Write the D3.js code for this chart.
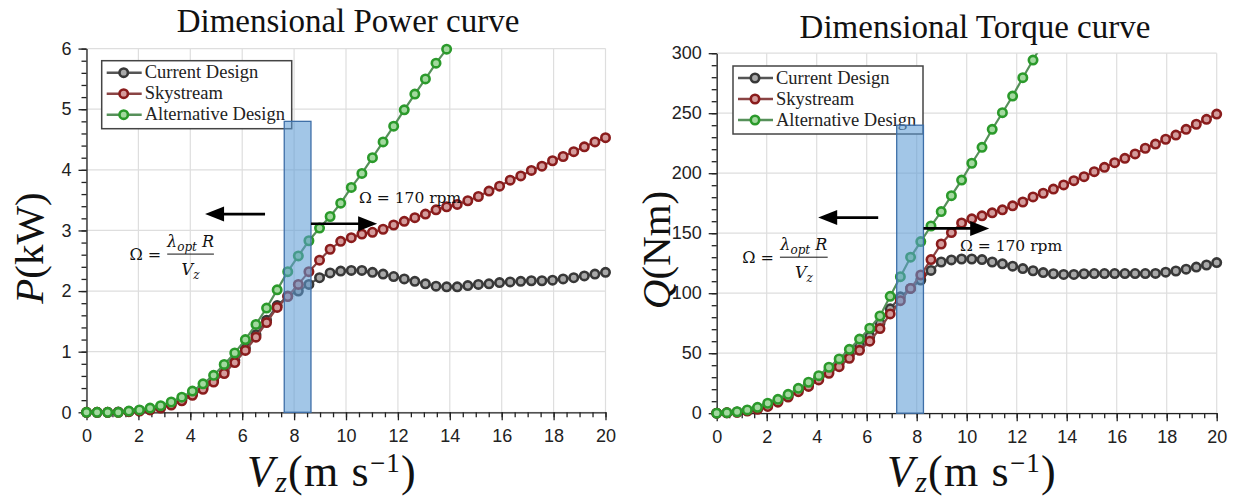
<!DOCTYPE html>
<html>
<head>
<meta charset="utf-8">
<script src="https://cdn.jsdelivr.net/npm/d3@7"></script>
<style>
  body { margin: 0; background: #fff; }
  svg { display: block; }
</style>
</head>
<body>
<svg id="fig" width="1237" height="503"></svg>
<script>
'use strict';

// wind speed samples (m/s), 50 points from 0 to 20
const windSpeed = [0, 0.408, 0.816, 1.224, 1.633, 2.041, 2.449, 2.857, 3.265, 3.673,
	4.082, 4.490, 4.898, 5.306, 5.714, 6.122, 6.531, 6.939, 7.347, 7.755,
	8.163, 8.571, 8.980, 9.388, 9.796, 10.204, 10.612, 11.020, 11.429, 11.837,
	12.245, 12.653, 13.061, 13.469, 13.878, 14.286, 14.694, 15.102, 15.510, 15.918,
	16.327, 16.735, 17.143, 17.551, 17.959, 18.367, 18.776, 19.184, 19.592, 20.000];

// power (kW)
const powerCurrent = [0, 0, 0, 0.005, 0.015, 0.03, 0.05, 0.09, 0.14, 0.21,
	0.30, 0.41, 0.53, 0.68, 0.86, 1.06, 1.28, 1.52, 1.76, 1.92,
	2.00, 2.11, 2.22, 2.30, 2.33, 2.34, 2.34, 2.31, 2.28, 2.24,
	2.20, 2.16, 2.12, 2.08, 2.07, 2.07, 2.09, 2.11, 2.12, 2.14,
	2.15, 2.16, 2.17, 2.17, 2.18, 2.20, 2.22, 2.25, 2.28, 2.31];
const powerSkystream = [0, 0, 0, 0, 0.01, 0.02, 0.04, 0.07, 0.12, 0.19,
	0.28, 0.38, 0.50, 0.64, 0.82, 1.02, 1.24, 1.48, 1.73, 1.91,
	2.11, 2.32, 2.51, 2.69, 2.82, 2.88, 2.94, 2.97, 3.02, 3.09,
	3.15, 3.21, 3.27, 3.34, 3.39, 3.43, 3.49, 3.56, 3.65, 3.73,
	3.83, 3.90, 3.99, 4.06, 4.15, 4.22, 4.30, 4.38, 4.46, 4.53];
const powerAlternative = [0, 0, 0, 0, 0.02, 0.04, 0.07, 0.11, 0.17, 0.25,
	0.35, 0.47, 0.61, 0.79, 0.98, 1.20, 1.45, 1.72, 2.02, 2.32,
	2.58, 2.83, 3.04, 3.23, 3.45, 3.71, 3.94, 4.20, 4.46, 4.72,
	4.99, 5.25, 5.50, 5.76, 5.99];

// torque (Nm)
const torqueCurrent = [0, 0.3, 1.0, 2.2, 4.0, 6.8, 10.3, 14.5, 19.2, 24.0,
	29.5, 35.5, 41.8, 49.0, 56.5, 64, 75, 87, 97, 104,
	111, 119, 126, 127.7, 128.5, 128.5, 128, 126, 124.5, 122.5,
	120.5, 118.7, 117.2, 116.2, 115.6, 115.6, 116.2, 116.4, 116.4, 116.4,
	116.4, 116.4, 116.4, 116.5, 117.5, 118.5, 120, 121.8, 123.5, 125.5];
const torqueSkystream = [0, 0.3, 0.8, 1.8, 3.3, 5.6, 9.2, 13.5, 17.9, 22.3,
	27.7, 33.3, 38.8, 45.8, 52.4, 60, 70.5, 82.7, 93.8, 104,
	115.2, 128, 141, 150.5, 158.5, 162, 164.5, 167, 169.5, 172.8,
	176, 180.2, 183.3, 186.8, 190.2, 193.8, 197.1, 201.3, 204.9, 208.8,
	212.4, 216.1, 220.8, 224.3, 228.3, 231.8, 236.6, 240.8, 244.9, 249.3];
const torqueAlternative = [0, 0.4, 1.2, 2.7, 4.9, 8.3, 11.6, 15.7, 20.7, 25.8,
	31.3, 38.3, 45.2, 53.2, 61.8, 70.8, 81, 97.4, 113.8, 130,
	143, 156, 168, 181.3, 194.3, 208.3, 221.6, 236.6, 250.4, 264.3,
	279.6, 294.3, 309];

const seriesNames = ['Current Design', 'Skystream', 'Alternative Design'];
const speedTicks = [0, 2, 4, 6, 8, 10, 12, 14, 16, 18, 20];
const powerTicks = [0, 1, 2, 3, 4, 5, 6];
const torqueTicks = [0, 50, 100, 150, 200, 250, 300];

// annotations: shaded band [v0, v1, top], arrows [from, to, level]
const powerBand = [7.62, 8.65, 4.8];
const powerArrows = [[6.88, 4.57, 3.27], [8.65, 11.2, 3.11]];
const torqueBand = [7.2, 8.27, 240];
const torqueArrows = [[6.46, 4.06, 163], [8.27, 10.9, 154]];

const styles = [
	{line: '#555555', stroke: '#383838', fill: '#a9a9a9'},
	{line: '#8a4444', stroke: '#8a1c1c', fill: '#d49c9c'},
	{line: '#56905a', stroke: '#2b9a2b', fill: '#a3d99f'}
];

const svg = d3.select('#fig');

function drawPanel(cfg) {
	const g = svg.append('g');
	const x = d3.scaleLinear().domain([0, 20]).range([cfg.left, cfg.right]);
	const y = d3.scaleLinear().domain([0, cfg.yMax]).range([cfg.bottom, cfg.top]);

	// grid
	g.append('g').selectAll('line').data(speedTicks).join('line')
		.attr('x1', d => x(d)).attr('x2', d => x(d))
		.attr('y1', cfg.top).attr('y2', cfg.bottom)
		.attr('stroke', '#dedede').attr('stroke-width', 1.2);
	g.append('g').selectAll('line').data(cfg.yTicks).join('line')
		.attr('x1', cfg.left).attr('x2', cfg.right)
		.attr('y1', d => y(d)).attr('y2', d => y(d))
		.attr('stroke', '#dedede').attr('stroke-width', 1.2);

	// axes
	const xAxis = g.append('g').attr('transform', 'translate(0,' + cfg.bottom + ')')
		.call(d3.axisBottom(x).tickValues(speedTicks).tickSize(8).tickPadding(9).tickSizeOuter(0));
	g.append('g').attr('transform', 'translate(0,' + cfg.bottom + ')')
		.call(d3.axisBottom(x).tickValues(d3.range(0, 20.01, 0.5)).tickSize(5).tickFormat('').tickSizeOuter(0))
		.select('.domain').remove();
	const yAxis = g.append('g').attr('transform', 'translate(' + cfg.left + ',0)')
		.call(d3.axisLeft(y).tickValues(cfg.yTicks).tickFormat(d3.format('d')).tickSize(8).tickPadding(7).tickSizeOuter(0));
	g.append('g').attr('transform', 'translate(' + cfg.left + ',0)')
		.call(d3.axisLeft(y).tickValues(d3.range(0, cfg.yMax + 1e-6, cfg.yMinor)).tickSize(5).tickFormat('').tickSizeOuter(0))
		.select('.domain').remove();
	g.selectAll('.tick line, .domain').attr('stroke', '#222').attr('stroke-width', 1.3);
	[xAxis, yAxis].forEach(a => a.selectAll('text')
		.attr('font-family', 'Liberation Sans, Arial, sans-serif')
		.attr('font-size', 18).attr('fill', '#222'));

	// clip for lines
	const clipId = 'clip' + cfg.id;
	svg.append('clipPath').attr('id', clipId).append('rect')
		.attr('x', cfg.left - 10).attr('y', cfg.top)
		.attr('width', cfg.right - cfg.left + 20).attr('height', cfg.bottom - cfg.top + 10);

	const lineDrawer = d3.line().x((d, i) => x(windSpeed[i])).y(d => y(d));
	cfg.series.forEach((vals, s) => {
		const st = styles[s];
		g.append('path').attr('d', lineDrawer(vals))
			.attr('fill', 'none').attr('stroke', st.line).attr('stroke-width', 2.2)
			.attr('clip-path', 'url(#' + clipId + ')');
		g.append('g').selectAll('circle')
			.data(vals.map((v, i) => [windSpeed[i], v]).filter(d => d[1] <= cfg.yMax))
			.join('circle')
			.attr('cx', d => x(d[0])).attr('cy', d => y(d[1])).attr('r', 4.2)
			.attr('fill', st.fill).attr('stroke', st.stroke).attr('stroke-width', 2.6);
	});

	// legend
	const lg = g.append('g').attr('transform', 'translate(' + cfg.legend[0] + ',' + cfg.legend[1] + ')');
	lg.append('rect').attr('width', 190).attr('height', 68)
		.attr('fill', '#fff').attr('stroke', '#444').attr('stroke-width', 1.5);
	seriesNames.forEach((name, s) => {
		const yy = 12 + s * 21;
		const st = styles[s];
		lg.append('line').attr('x1', 5).attr('x2', 40).attr('y1', yy).attr('y2', yy)
			.attr('stroke', st.line).attr('stroke-width', 2.4);
		lg.append('circle').attr('cx', 22).attr('cy', yy).attr('r', 4.2)
			.attr('fill', st.fill).attr('stroke', st.stroke).attr('stroke-width', 2.6);
		lg.append('text').attr('x', 43).attr('y', yy + 5.5).text(name)
			.attr('font-family', 'Liberation Serif, serif').attr('font-size', 18.5).attr('fill', '#222');
	});

	// shaded band
	g.append('rect')
		.attr('x', x(cfg.band[0])).attr('width', x(cfg.band[1]) - x(cfg.band[0]))
		.attr('y', y(cfg.band[2])).attr('height', y(0) - y(cfg.band[2]))
		.attr('fill', '#5b9bd5').attr('fill-opacity', 0.57)
		.attr('stroke', '#3e6fa8').attr('stroke-width', 1.3);

	// arrows
	cfg.arrows.forEach(a => {
		const x0 = x(a[0]), x1 = x(a[1]), yy = y(a[2]);
		const dir = Math.sign(x1 - x0);
		g.append('line').attr('x1', x0).attr('x2', x1 - dir * 14).attr('y1', yy).attr('y2', yy)
			.attr('stroke', '#000').attr('stroke-width', 2.6);
		g.append('path')
			.attr('d', 'M' + x1 + ',' + yy + 'L' + (x1 - dir * 19) + ',' + (yy - 7.5) + 'L' + (x1 - dir * 19) + ',' + (yy + 7.5) + 'Z')
			.attr('fill', '#000');
	});

	// Ω = 170 rpm
	g.append('text').attr('x', x(cfg.rpmAt[0])).attr('y', y(cfg.rpmAt[1]))
		.attr('font-family', 'DejaVu Serif, serif').attr('font-size', 15.5).attr('fill', '#111')
		.text('Ω = 170 rpm');

	// Ω = λopt R / Vz
	const bx0 = x(cfg.frac[0]), bx1 = x(cfg.frac[1]), by = y(cfg.frac[2]);
	const fg = g.append('g').attr('font-family', 'DejaVu Serif, serif').attr('fill', '#111');
	fg.append('line').attr('x1', bx0).attr('x2', bx1).attr('y1', by).attr('y2', by)
		.attr('stroke', '#111').attr('stroke-width', 1);
	fg.append('text').attr('x', bx0 - 6).attr('y', by + 6).attr('text-anchor', 'end')
		.attr('font-size', 16).text('Ω =');
	const num = fg.append('text').attr('x', (bx0 + bx1) / 2).attr('y', by - 7)
		.attr('text-anchor', 'middle').attr('font-size', 16);
	num.append('tspan').attr('font-style', 'italic').text('λ');
	num.append('tspan').attr('font-style', 'italic').attr('font-size', 12).attr('dy', 4).text('opt');
	num.append('tspan').attr('font-style', 'italic').attr('dy', -4).text(' R');
	const den = fg.append('text').attr('x', (bx0 + bx1) / 2).attr('y', by + 21)
		.attr('text-anchor', 'middle').attr('font-size', 16);
	den.append('tspan').attr('font-style', 'italic').text('V');
	den.append('tspan').attr('font-style', 'italic').attr('font-size', 12).attr('dy', 4).text('z');

	// title
	g.append('text').attr('x', cfg.titleAt[0]).attr('y', cfg.titleAt[1])
		.attr('text-anchor', 'middle').attr('font-family', 'Liberation Serif, serif')
		.attr('font-size', 33).attr('fill', '#111').text(cfg.title);

	// x label
	const xl = g.append('text').attr('x', cfg.xLabelX).attr('y', 486)
		.attr('text-anchor', 'middle').attr('font-family', 'Liberation Serif, serif')
		.attr('font-size', 44).attr('letter-spacing', 1.2).attr('fill', '#111');
	xl.append('tspan').attr('font-style', 'italic').text('V');
	xl.append('tspan').attr('font-style', 'italic').attr('font-size', 30).attr('dy', 6).text('z');
	xl.append('tspan').attr('dy', -6).text('(m s');
	xl.append('tspan').attr('font-size', 27).attr('dy', -14).text('−1');
	xl.append('tspan').attr('dy', 14).text(')');

	// y label
	const yl = g.append('text')
		.attr('transform', 'translate(' + cfg.yLabelX + ',' + cfg.yLabelY + ') rotate(-90)')
		.attr('text-anchor', 'middle').attr('font-family', 'Liberation Serif, serif')
		.attr('font-size', 41).attr('fill', '#111');
	yl.append('tspan').attr('font-style', 'italic').text(cfg.yLabel[0]);
	yl.append('tspan').text(cfg.yLabel[1]);
}

drawPanel({
	id: 'P', left: 86.5, right: 605.5, top: 48.6, bottom: 412.3,
	yMax: 6, yTicks: powerTicks, yMinor: 0.2,
	series: [powerCurrent, powerSkystream, powerAlternative],
	legend: [101.7, 60.7],
	band: powerBand, arrows: powerArrows,
	rpmAt: [10.5, 3.45], frac: [3.11, 4.91, 2.61],
	title: 'Dimensional Power curve', titleAt: [348, 32],
	xLabelX: 332, yLabelX: 43, yLabelY: 248, yLabel: ['P', '(kW)']
});

drawPanel({
	id: 'Q', left: 716.7, right: 1216.7, top: 53.2, bottom: 413.2,
	yMax: 300, yTicks: torqueTicks, yMinor: 10,
	series: [torqueCurrent, torqueSkystream, torqueAlternative],
	legend: [733, 66],
	band: torqueBand, arrows: torqueArrows,
	rpmAt: [9.73, 135.4], frac: [2.53, 4.44, 130],
	title: 'Dimensional Torque curve', titleAt: [975, 38],
	xLabelX: 972, yLabelX: 670, yLabelY: 250, yLabel: ['Q', '(Nm)']
});
</script>
</body>
</html>
